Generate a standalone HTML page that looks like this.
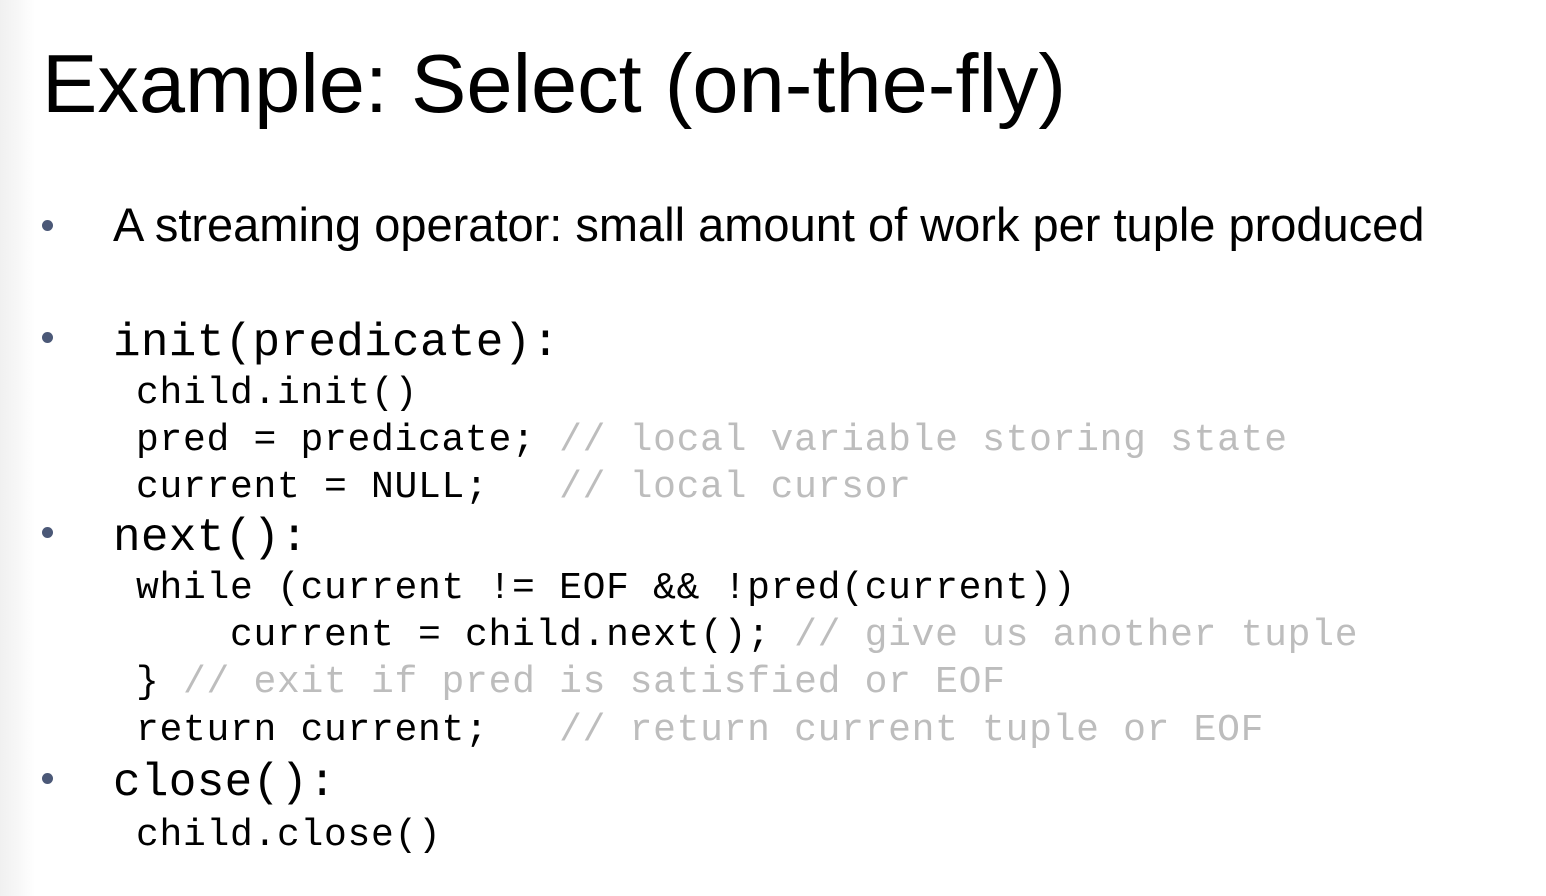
<!DOCTYPE html>
<html><head><meta charset="utf-8"><style>
body{margin:0;width:1546px;height:896px;position:relative;overflow:hidden;background:linear-gradient(to right,#f0f0f0 0,#f8f8f8 20px,#fff 35px);}
.t{position:absolute;white-space:pre;line-height:1;color:#000}
.s{font-family:"Liberation Sans",sans-serif}
.m{font-family:"Liberation Mono",monospace}
.m38{font-size:38px;letter-spacing:0.7px}
.c{color:#bdbdbd}
.b{position:absolute;width:11px;height:11px;border-radius:50%;background:#4b5877}
</style></head><body>
<div class="t s" style="left:42px;top:42px;font-size:83px">Example: Select (on-the-fly)</div>
<div class="b" style="left:42px;top:220px"></div>
<div class="t s" style="left:113px;top:201px;font-size:47px">A streaming operator: small amount of work per tuple produced</div>
<div class="b" style="left:42px;top:332px"></div>
<div class="t m" style="left:113px;top:320px;font-size:46px;letter-spacing:0.3px">init(predicate):</div>
<div class="t m m38" style="left:136px;top:375px">child.init()</div>
<div class="t m m38" style="left:136px;top:422px">pred = predicate; <span class="c">// local variable storing state</span></div>
<div class="t m m38" style="left:136px;top:469px">current = NULL;   <span class="c">// local cursor</span></div>
<div class="b" style="left:42px;top:527px"></div>
<div class="t m" style="left:113px;top:515px;font-size:46px;letter-spacing:0.3px">next():</div>
<div class="t m m38" style="left:136px;top:570px">while (current != EOF &amp;&amp; !pred(current))</div>
<div class="t m m38" style="left:136px;top:617px">    current = child.next(); <span class="c">// give us another tuple</span></div>
<div class="t m m38" style="left:136px;top:664px">} <span class="c">// exit if pred is satisfied or EOF</span></div>
<div class="t m m38" style="left:136px;top:712px">return current;   <span class="c">// return current tuple or EOF</span></div>
<div class="b" style="left:42px;top:773px"></div>
<div class="t m" style="left:113px;top:760px;font-size:46px;letter-spacing:0.3px">close():</div>
<div class="t m m38" style="left:136px;top:817px">child.close()</div>
</body></html>
